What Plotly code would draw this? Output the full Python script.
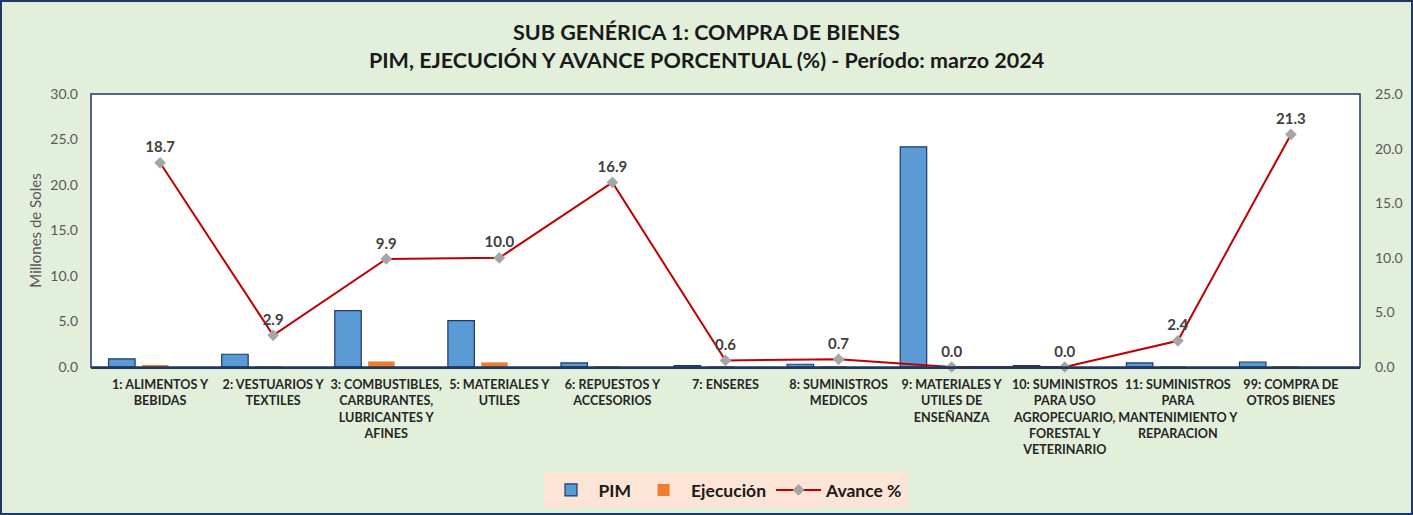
import plotly.graph_objects as go

categories = [
    "1: ALIMENTOS Y<br>BEBIDAS",
    "2: VESTUARIOS Y<br>TEXTILES",
    "3: COMBUSTIBLES,<br>CARBURANTES,<br>LUBRICANTES Y<br>AFINES",
    "5: MATERIALES Y<br>UTILES",
    "6: REPUESTOS Y<br>ACCESORIOS",
    "7: ENSERES",
    "8: SUMINISTROS<br>MEDICOS",
    "9: MATERIALES Y<br>UTILES DE<br>ENSEÑANZA",
    "10: SUMINISTROS<br>PARA USO<br>AGROPECUARIO,<br>FORESTAL Y<br>VETERINARIO",
    "11: SUMINISTROS<br>PARA<br>MANTENIMIENTO Y<br>REPARACION",
    "99: COMPRA DE<br>OTROS BIENES",
]
pim = [0.9, 1.4, 6.2, 5.1, 0.45, 0.15, 0.3, 24.2, 0.15, 0.45, 0.55]
ejecucion = [0.17, 0.04, 0.61, 0.51, 0.08, 0.001, 0.002, 0.0, 0.0, 0.011, 0.05]
avance = [18.7, 2.9, 9.9, 10.0, 16.9, 0.6, 0.7, 0.0, 0.0, 2.4, 21.3]

FONT = "Lato"
W, H = 1413, 515
ML, MR, MT, MB = 91, 53, 94, 148
PW, PH = W - ML - MR, H - MT - MB

fig = go.Figure()
fig.add_trace(go.Bar(
    x=categories, y=pim, name="PIM",
    marker=dict(color="#5B9BD5", line=dict(color="#1F3864", width=1.2)),
    width=0.234, offset=-0.455,
))
fig.add_trace(go.Bar(
    x=categories, y=ejecucion, name="Ejecución",
    marker=dict(color="#ED7D31", line=dict(width=0)),
    width=0.234, offset=-0.16,
))
fig.add_trace(go.Scatter(
    x=categories, y=avance, name="Avance %", yaxis="y2",
    mode="lines+markers+text",
    line=dict(color="#C00000", width=2),
    marker=dict(symbol="diamond", color="#A5A5A5", size=9),
    text=[f"{v:.1f}" for v in avance],
    textposition="top center",
    textfont=dict(family=FONT, size=15, color="#404040", weight="bold"),
    cliponaxis=False,
))

def px_to_paper_x(px):
    return (px - ML) / PW

def px_to_paper_y(py):
    return (H - MB - py) / PH

fig.update_layout(
    width=W, height=H,
    margin=dict(l=ML, r=MR, t=MT, b=MB, pad=0, autoexpand=False),
    paper_bgcolor="#E2EFDA",
    plot_bgcolor="#FFFFFF",
    barmode="overlay",
    font=dict(family=FONT, color="#595959"),
    title=dict(
        text="SUB GENÉRICA 1: COMPRA DE BIENES<br>PIM, EJECUCIÓN Y AVANCE PORCENTUAL (%) - Período: marzo 2024",
        x=0.5, xanchor="center", y=1 - 40 / H, yanchor="middle",
        font=dict(family=FONT, size=21.5, color="#1A1A1A", weight="bold"),
    ),
    xaxis=dict(
        showgrid=False, showline=True, linecolor="#1F3864", linewidth=1.5,
        tickfont=dict(family=FONT, size=12.6, color="#262626", weight="bold"),
        ticks="", fixedrange=True, tickangle=0, ticklabelstandoff=5,
        automargin=False,
    ),
    yaxis=dict(
        range=[0, 30], dtick=5, tickformat=".1f", showgrid=False,
        zeroline=False, showline=False,
        tickfont=dict(family=FONT, size=14, color="#595959"),
        ticklabelstandoff=12, automargin=False,
        title=dict(text="Millones de Soles", font=dict(family=FONT, size=15, color="#595959"), standoff=5),
    ),
    yaxis2=dict(
        range=[0, 25], dtick=5, tickformat=".1f", showgrid=False,
        zeroline=False, showline=False, overlaying="y", side="right",
        tickfont=dict(family=FONT, size=14, color="#595959"),
        ticklabelstandoff=14, automargin=False,
    ),
    legend=dict(
        orientation="h", x=0.5, xanchor="center", y=px_to_paper_y(490), yanchor="middle",
        bgcolor="#FCE4D6", font=dict(family=FONT, size=17.5, color="#1A1A1A", weight="bold"),
        itemwidth=45, traceorder="normal",
    ),
    showlegend=True,
    shapes=[
        dict(type="rect", xref="paper", yref="paper", x0=0, x1=1, y0=0, y1=1,
             line=dict(color="#1F3864", width=1.5), layer="above"),
        dict(type="rect", xref="paper", yref="paper",
             x0=px_to_paper_x(1), x1=px_to_paper_x(W - 1),
             y0=px_to_paper_y(H - 1), y1=px_to_paper_y(1),
             line=dict(color="#1F3864", width=2), layer="above"),
    ],
)

fig.write_html("out.html", config={"displayModeBar": False},
               post_script="document.body.style.margin='0';document.body.style.overflow='hidden';")
